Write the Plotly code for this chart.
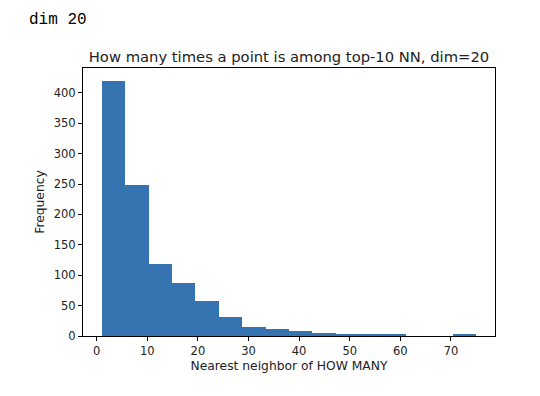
import numpy as np
import plotly.graph_objects as go

# Histogram data
bin_start = 1.0
bin_end = 75.0
n_bins = 16
counts = [420, 248, 118, 87, 57, 32, 15, 11, 8, 5, 4, 2, 4, 0, 0, 2]

x_ticks = [0, 10, 20, 30, 40, 50, 60, 70]
y_ticks = [0, 50, 100, 150, 200, 250, 300, 350, 400]

edges = np.linspace(bin_start, bin_end, n_bins + 1)
centers = (edges[:-1] + edges[1:]) / 2
widths = np.diff(edges)

fig = go.Figure()
fig.add_trace(go.Bar(
    x=centers, y=counts, width=widths,
    marker=dict(color="#3573b1", line=dict(width=0)),
    showlegend=False,
))

# the page body adds an 8px offset; compensate so the plot lands at the reference position
off = 8
L, T, PW, PH = 83 - off, 68 - off, 412, 268

span = bin_end - bin_start
font = "DejaVu Sans"
axis_common = dict(
    showline=True, linecolor="black", linewidth=1, mirror=True,
    ticks="outside", ticklen=4, tickcolor="black", tickwidth=1,
    showgrid=False, zeroline=False, automargin=False,
    tickfont=dict(family=font, size=11.5, color="#222"),
)
fig.update_layout(
    width=540, height=396,
    margin=dict(l=L, r=540 - L - PW, t=T, b=396 - T - PH, autoexpand=False),
    paper_bgcolor="white", plot_bgcolor="white",
    bargap=0,
    title=dict(
        text="How many times a point is among top-10 NN, dim=20",
        font=dict(family=font, size=14.75, color="#222"),
        x=(L + PW / 2) / 540, xanchor="center",
        y=1 - (57 - off) / 396, yanchor="middle",
    ),
    xaxis=dict(
        range=[bin_start - 0.05 * span, bin_end + 0.05 * span],
        tickvals=x_ticks,
        title=dict(text="Nearest neighbor of HOW MANY", font=dict(family=font, size=12.3, color="#222"), standoff=4),
        **axis_common,
    ),
    yaxis=dict(
        range=[0, max(counts) * 1.05],
        tickvals=y_ticks,
        title=dict(text="Frequency", font=dict(family=font, size=12.3, color="#222"), standoff=6),
        **axis_common,
    ),
    annotations=[dict(
        text="dim 20", xref="paper", yref="paper",
        x=(27 - 83) / PW, y=(336 - 20) / PH,
        xanchor="left", yanchor="middle", showarrow=False,
        font=dict(family="Liberation Mono", size=16, color="black"),
    )],
)

fig.write_html("out.html")
